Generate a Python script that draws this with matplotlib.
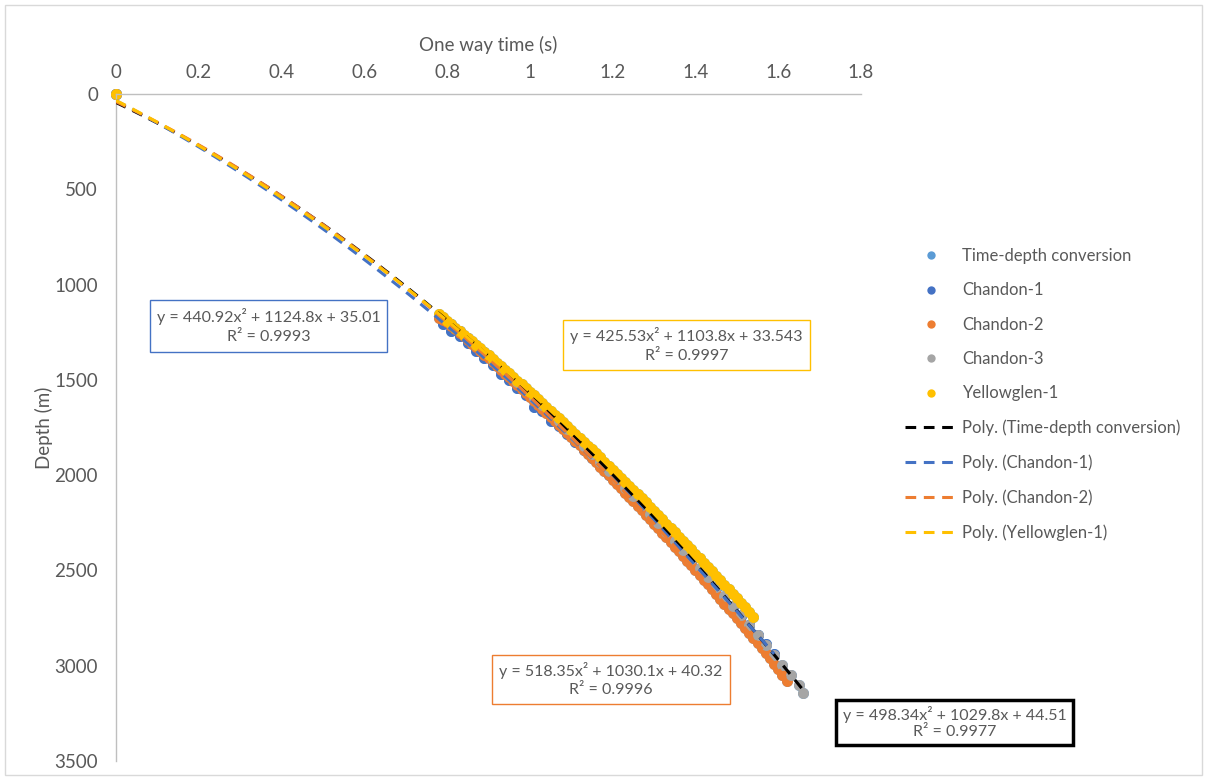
import numpy as np
import matplotlib.pyplot as plt
from matplotlib.patches import Rectangle
from matplotlib.lines import Line2D

plt.rcParams['font.family'] = ['Lato', 'DejaVu Sans']
TEXT = '#595959'

# One way time (s) and depth (m) of each well
ch1_time = [0.0, 0.79, 0.81, 0.83, 0.85, 0.87, 0.89, 0.91, 0.93, 0.95, 0.97, 0.99,
            1.01, 1.03, 1.05, 1.07, 1.09, 1.11, 1.13, 1.15, 1.17, 1.19, 1.21, 1.23,
            1.25, 1.27, 1.29, 1.31, 1.33, 1.35, 1.37, 1.39, 1.41, 1.43, 1.45, 1.47,
            1.49, 1.51, 1.53, 1.55, 1.57, 1.59]
ch1_depth = [0, 1205, 1245, 1272, 1309, 1347, 1385, 1423, 1470, 1501, 1541, 1581,
             1640, 1661, 1718, 1743, 1785, 1827, 1869, 1911, 1954, 1998, 2042, 2086,
             2130, 2174, 2219, 2265, 2311, 2357, 2403, 2450, 2497, 2545, 2593, 2641,
             2690, 2738, 2788, 2838, 2888, 2938]

ch2_time = [0.0, 0.78, 0.79, 0.80, 0.81, 0.82, 0.83, 0.84, 0.85, 0.86, 0.87, 0.88,
            0.89, 0.90, 0.91, 0.92, 0.93, 0.94, 0.95, 0.96, 0.97, 0.98, 0.99, 1.00,
            1.01, 1.02, 1.03, 1.04, 1.05, 1.06, 1.07, 1.08, 1.09, 1.10, 1.11, 1.12,
            1.13, 1.14, 1.15, 1.16, 1.17, 1.18, 1.19, 1.20, 1.21, 1.22, 1.23, 1.24,
            1.25, 1.26, 1.27, 1.28, 1.29, 1.30, 1.31, 1.32, 1.33, 1.34, 1.35, 1.36,
            1.37, 1.38, 1.39, 1.40, 1.41, 1.42, 1.43, 1.44, 1.45, 1.46, 1.47, 1.48,
            1.49, 1.50, 1.51, 1.52, 1.53, 1.54, 1.55, 1.56, 1.57, 1.58, 1.59, 1.60,
            1.61, 1.62]
ch2_depth = [0, 1175, 1185, 1196, 1215, 1234, 1252, 1271, 1290, 1310, 1329, 1348,
             1367, 1387, 1407, 1427, 1447, 1467, 1487, 1507, 1527, 1548, 1568, 1589,
             1609, 1630, 1651, 1672, 1693, 1715, 1736, 1757, 1779, 1801, 1822, 1844,
             1866, 1888, 1910, 1933, 1955, 1978, 2000, 2023, 2046, 2069, 2092, 2115,
             2138, 2161, 2184, 2208, 2231, 2255, 2279, 2303, 2327, 2351, 2375, 2400,
             2424, 2449, 2473, 2498, 2523, 2548, 2573, 2599, 2624, 2649, 2674, 2700,
             2726, 2752, 2778, 2804, 2830, 2856, 2882, 2909, 2935, 2962, 2989, 3016,
             3048, 3080]

ch3_time = [0.0, 0.81, 0.83, 0.85, 0.87, 0.89, 0.91, 0.93, 0.95, 0.97, 0.99, 1.01,
            1.03, 1.05, 1.07, 1.09, 1.11, 1.13, 1.15, 1.17, 1.19, 1.21, 1.23, 1.25,
            1.27, 1.29, 1.31, 1.33, 1.35, 1.37, 1.39, 1.41, 1.43, 1.45, 1.47, 1.49,
            1.51, 1.53, 1.55, 1.57, 1.59, 1.61, 1.63, 1.65, 1.66]
ch3_depth = [0, 1205, 1243, 1280, 1318, 1356, 1395, 1433, 1472, 1512, 1553, 1593,
             1634, 1675, 1717, 1759, 1802, 1845, 1888, 1932, 1976, 2020, 2065, 2110,
             2156, 2202, 2249, 2296, 2343, 2391, 2439, 2487, 2536, 2586, 2635, 2685,
             2736, 2787, 2838, 2890, 2942, 2995, 3048, 3101, 3145]

yg1_time = [0.0, 0.78, 0.79, 0.80, 0.81, 0.82, 0.83, 0.84, 0.85, 0.86, 0.87, 0.88,
            0.89, 0.90, 0.91, 0.92, 0.93, 0.94, 0.95, 0.96, 0.97, 0.98, 0.99, 1.00,
            1.01, 1.02, 1.03, 1.04, 1.05, 1.06, 1.07, 1.08, 1.09, 1.10, 1.11, 1.12,
            1.13, 1.14, 1.15, 1.16, 1.17, 1.18, 1.19, 1.20, 1.21, 1.22, 1.23, 1.24,
            1.25, 1.26, 1.27, 1.28, 1.29, 1.30, 1.31, 1.32, 1.33, 1.34, 1.35, 1.36,
            1.37, 1.38, 1.39, 1.40, 1.41, 1.42, 1.43, 1.44, 1.45, 1.46, 1.47, 1.48,
            1.49, 1.50, 1.51, 1.52, 1.53, 1.54]
yg1_depth = [0, 1155, 1172, 1190, 1208, 1226, 1244, 1262, 1279, 1296, 1315, 1335,
             1353, 1372, 1391, 1410, 1428, 1446, 1466, 1486, 1505, 1524, 1543, 1563,
             1582, 1601, 1621, 1642, 1662, 1682, 1701, 1721, 1742, 1763, 1783, 1804,
             1824, 1845, 1865, 1886, 1907, 1929, 1950, 1971, 1992, 2013, 2035, 2057,
             2078, 2100, 2121, 2143, 2165, 2188, 2210, 2232, 2254, 2277, 2299, 2322,
             2344, 2367, 2390, 2413, 2436, 2459, 2482, 2505, 2528, 2552, 2575, 2599,
             2623, 2647, 2670, 2694, 2718, 2743]

# Polynomial trendline coefficients printed on the chart (t^2, t, 1)
trend_tdc = [498.34, 1029.8, 44.51]
trend_ch1 = [440.92, 1124.8, 35.01]
trend_ch2 = [518.35, 1030.1, 40.32]
trend_yg1 = [425.53, 1103.8, 33.543]
r2 = {'tdc': '0.9977', 'ch1': '0.9993', 'ch2': '0.9996', 'yg1': '0.9997'}

# combined time-depth conversion = all wells together
tdc_time = np.concatenate([ch1_time, ch2_time, ch3_time, yg1_time])
tdc_depth = np.concatenate([ch1_depth, ch2_depth, ch3_depth, yg1_depth])

colors = {'tdc': '#5B9BD5', 'ch1': '#4472C4', 'ch2': '#ED7D31',
          'ch3': '#A5A5A5', 'yg1': '#FFC000'}

fig = plt.figure(figsize=(12.07, 7.8), dpi=100)
ax = fig.add_axes([116 / 1207, 1 - 761 / 780, 745 / 1207, 667 / 780])

series = [(tdc_time, tdc_depth, 'tdc'), (ch1_time, ch1_depth, 'ch1'),
          (ch2_time, ch2_depth, 'ch2'), (ch3_time, ch3_depth, 'ch3'),
          (yg1_time, yg1_depth, 'yg1')]
for t, d, key in series:
    ax.scatter(t, d, s=62, color=colors[key], linewidths=0, zorder=2, clip_on=False)

# trendlines in series order, the last one drawn on top
trends = [(tdc_time, trend_tdc, 'black'), (ch1_time, trend_ch1, colors['ch1']),
          (ch2_time, trend_ch2, colors['ch2']), (yg1_time, trend_yg1, colors['yg1'])]
for t, coef, c in trends:
    tt = np.linspace(0, max(t), 200)
    ax.plot(tt, np.polyval(coef, tt), color=c, lw=2.2, dashes=(3.5, 2.5), zorder=3)

ax.set_xlim(0, 1.8)
ax.set_ylim(3500, 0)
ax.xaxis.tick_top()
ax.xaxis.set_label_position('top')
xt = np.arange(0, 1.81, 0.2)
ax.set_xticks(xt)
ax.set_xticklabels(['%g' % round(v, 1) for v in xt])
ax.set_yticks(np.arange(0, 3501, 500))
ax.tick_params(axis='x', length=0, pad=9, labelsize=13.5, colors=TEXT)
ax.tick_params(axis='y', length=0, pad=13, labelsize=13.5, colors=TEXT)
ax.set_xlabel('One way time (s)', fontsize=13.5, color=TEXT, labelpad=10)
ax.set_ylabel('Depth (m)', fontsize=13.5, color=TEXT)
ax.yaxis.set_label_coords(-0.085, 0.5)
for s in ['right', 'bottom']:
    ax.spines[s].set_visible(False)
for s in ['top', 'left']:
    ax.spines[s].set_color('#BFBFBF')
    ax.spines[s].set_linewidth(1)

# legend
handles = [Line2D([], [], ls='none', marker='o', markersize=6, markeredgewidth=0,
                  color=colors[k]) for k in ['tdc', 'ch1', 'ch2', 'ch3', 'yg1']]
handles += [Line2D([], [], color=c, lw=2.2, dashes=(3.5, 2.5))
            for c in ['black', colors['ch1'], colors['ch2'], colors['yg1']]]
labels = ['Time-depth conversion', 'Chandon-1', 'Chandon-2', 'Chandon-3', 'Yellowglen-1',
          'Poly. (Time-depth conversion)', 'Poly. (Chandon-1)', 'Poly. (Chandon-2)',
          'Poly. (Yellowglen-1)']
ax.legend(handles, labels, loc='upper left', bbox_to_anchor=(905 / 1207, 1 - 248 / 780),
          bbox_transform=fig.transFigure, frameon=False, fontsize=12, labelcolor=TEXT,
          handlelength=3.1, handletextpad=0.35, labelspacing=1.1, borderpad=0,
          borderaxespad=0)

# trendline equation boxes
def eq_box(x0, y0, x1, y1, coef, r, edge, lw=1.0):
    fig.patches.append(Rectangle((x0 / 1207, 1 - y1 / 780), (x1 - x0) / 1207,
                                 (y1 - y0) / 780, transform=fig.transFigure,
                                 fill=False, edgecolor=edge, lw=lw))
    xc = (x0 + x1) / 2 / 1207
    line1 = 'y = %gx² + %gx + %g' % tuple(coef)
    fig.text(xc, 1 - (y0 + (y1 - y0) * 0.32) / 780, line1, ha='center', va='center',
             fontsize=11.5, color=TEXT)
    fig.text(xc, 1 - (y0 + (y1 - y0) * 0.72) / 780, 'R² = ' + r, ha='center',
             va='center', fontsize=11.5, color=TEXT)

eq_box(150, 300, 387, 352, trend_ch1, r2['ch1'], colors['ch1'])
eq_box(563, 320, 810, 370, trend_yg1, r2['yg1'], colors['yg1'])
eq_box(492, 655, 730, 704, trend_ch2, r2['ch2'], colors['ch2'])
eq_box(836, 700, 1073, 745, trend_tdc, r2['tdc'], 'black', lw=2.5)

# chart area border
fig.patches.append(Rectangle((5 / 1207, 5 / 780), 1197 / 1207, 770 / 780,
                             transform=fig.transFigure, fill=False,
                             edgecolor='#D9D9D9', lw=1))

fig.savefig('out.png', dpi=100)
